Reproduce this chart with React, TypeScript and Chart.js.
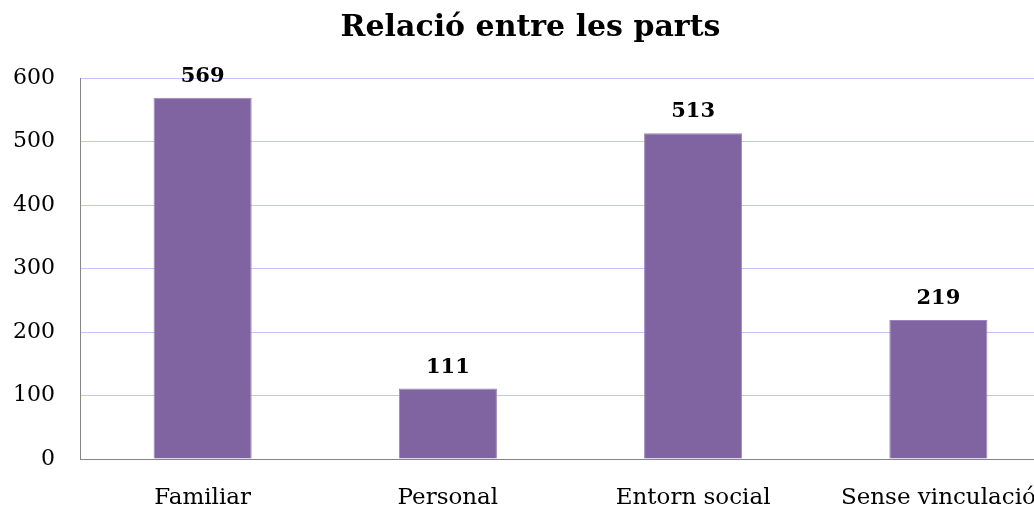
import React, { useEffect, useRef } from "react";
import { Chart, registerables } from "chart.js";

Chart.register(...registerables);

const categories = ["Familiar", "Personal", "Entorn social", "Sense vinculació"];
const values = [569, 111, 513, 219];
const titleText = "Relació entre les parts";
const yTicks = [0, 100, 200, 300, 400, 500, 600];

const FONT = "'DejaVu Serif', 'Liberation Serif', serif";

const valueLabels = {
  id: "valueLabels",
  afterDatasetsDraw(chart: any) {
    const ctx = chart.ctx;
    const meta = chart.getDatasetMeta(0);
    ctx.save();
    ctx.font = `bold 21px ${FONT}`;
    ctx.fillStyle = "#000";
    ctx.textAlign = "center";
    ctx.textBaseline = "alphabetic";
    meta.data.forEach((bar: any, i: number) => {
      ctx.fillText(String(chart.data.datasets[0].data[i]), bar.x, bar.y - 16);
    });
    ctx.restore();
  },
};

export default function App() {
  const ref = useRef<HTMLCanvasElement>(null);
  useEffect(() => {
    if (!ref.current) return;
    const chart = new Chart(ref.current, {
      type: "bar",
      data: {
        labels: categories,
        datasets: [
          {
            data: values,
            backgroundColor: "#8064A2",
            borderColor: "#9A84BC",
            borderWidth: 1,
            categoryPercentage: 1,
            barPercentage: 0.4,
          },
        ],
      },
      options: {
        responsive: false,
        animation: false,
        layout: { padding: { left: 0, right: 1, top: 0, bottom: 0 } },
        plugins: {
          legend: { display: false },
          tooltip: { enabled: false },
          title: {
            display: true,
            text: titleText,
            color: "#000",
            font: { family: FONT, size: 30, weight: "bold" },
            padding: { top: 10, bottom: 32 },
          },
        },
        scales: {
          x: {
            grid: { display: false, drawTicks: false },
            border: { color: "#868686", width: 1 },
            ticks: { color: "#000", font: { family: FONT, size: 23 }, padding: 25, maxRotation: 0, autoSkip: false },
            afterFit: (s: any) => { s.height = 71; },
          },
          y: {
            min: 0,
            max: 600,
            afterBuildTicks: (s: any) => { s.ticks = yTicks.map((v) => ({ value: v })); },
            grid: { color: "#C2C2FF", drawTicks: false },
            border: { color: "#868686", width: 1 },
            ticks: { color: "#000", font: { family: FONT, size: 22 }, padding: 25 },
            afterFit: (s: any) => { s.width = 80; },
          },
        },
      },
      plugins: [valueLabels],
    });
    return () => chart.destroy();
  }, []);
  return (
    <div style={{ position: "fixed", left: 0, top: 0, width: 1034, height: 505, overflow: "hidden", background: "#fff" }}>
      <canvas ref={ref} width={1062} height={530} style={{ width: 1062, height: 530, display: "block" }} />
    </div>
  );
}
